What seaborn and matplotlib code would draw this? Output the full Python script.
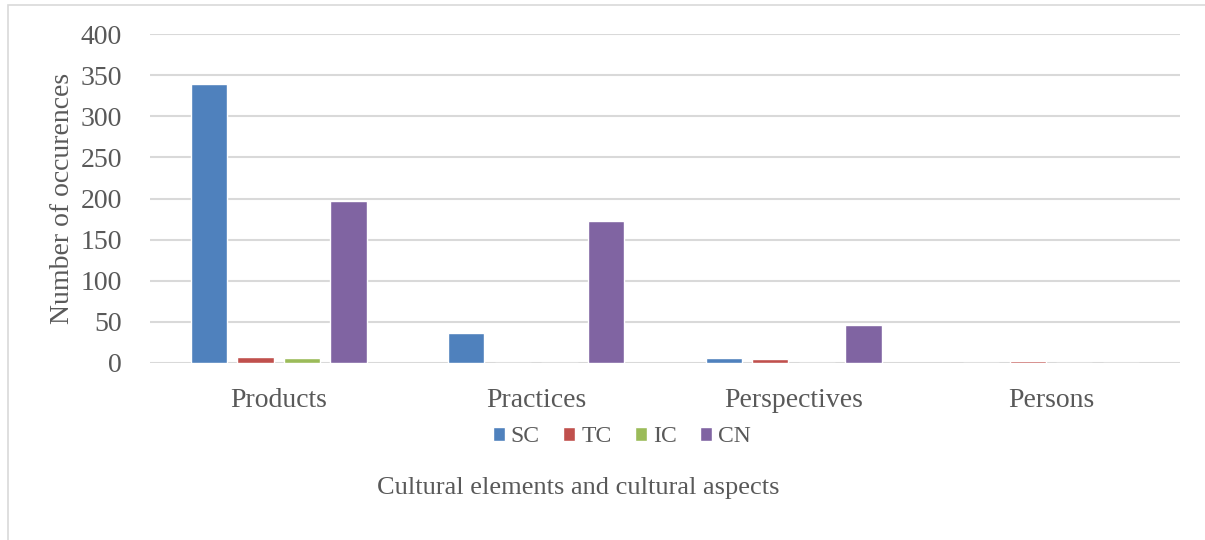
import pandas as pd
import matplotlib.pyplot as plt
import seaborn as sns
from matplotlib.patches import Rectangle

aspects = ["Products", "Practices", "Perspectives", "Persons"]
groups = ["SC", "TC", "IC", "CN"]
sc = [340, 36, 6, 0]
tc = [7, 0, 4, 2]
ic = [6, 0, 0, 0]
cn = [197, 173, 46, 0]

df = pd.DataFrame({"Aspect": aspects * 4,
                   "Group": [g for g in groups for _ in aspects],
                   "Count": sc + tc + ic + cn})

cols = ["#4f81bd", "#c0504d", "#9bbb59", "#8064a2"]
grey = "#595959"

sns.set_style("white")
plt.rcParams["font.family"] = ["Liberation Serif", "DejaVu Serif"]

fig = plt.figure(figsize=(12.05, 5.4), dpi=100)
ax = fig.add_axes([0.1245, 0.3285, 0.8545, 0.6078])

sns.barplot(data=df, x="Aspect", y="Count", hue="Group", palette=cols, saturation=1,
            width=0.724, gap=0.22, ax=ax, zorder=3)

ax.set_ylim(0, 400)
ax.set_xlim(-0.5, 3.5)
ax.set_yticks(range(0, 401, 50))
ax.yaxis.grid(True, color="#d9d9d9", linewidth=1.5, zorder=0)
ax.set_axisbelow(True)
for s in ax.spines.values():
    s.set_visible(False)
ax.tick_params(axis="both", length=0, colors=grey, labelsize=20)
ax.tick_params(axis="y", pad=20)
ax.tick_params(axis="x", pad=18)
ax.set_xlabel("")
ax.set_ylabel("Number of occurences", fontsize=20, color=grey, labelpad=4)

ax.legend(loc="center", bbox_to_anchor=(0.516, 1 - 437 / 540), bbox_transform=fig.transFigure,
          ncol=4, frameon=False, fontsize=17, handlelength=0.5, handleheight=0.5,
          handletextpad=0.25, columnspacing=1.0, labelcolor=grey)

fig.text(578 / 1205, 1 - 488 / 540, "Cultural elements and cultural aspects",
         ha="center", va="center", fontsize=19, color=grey)

fig.patches.append(Rectangle((8 / 1205, -0.1), 1.2, 1 - 5 / 540 + 0.1, transform=fig.transFigure,
                             fill=False, edgecolor="#d9d9d9", linewidth=1.2))

fig.savefig("out.png", dpi=100)
